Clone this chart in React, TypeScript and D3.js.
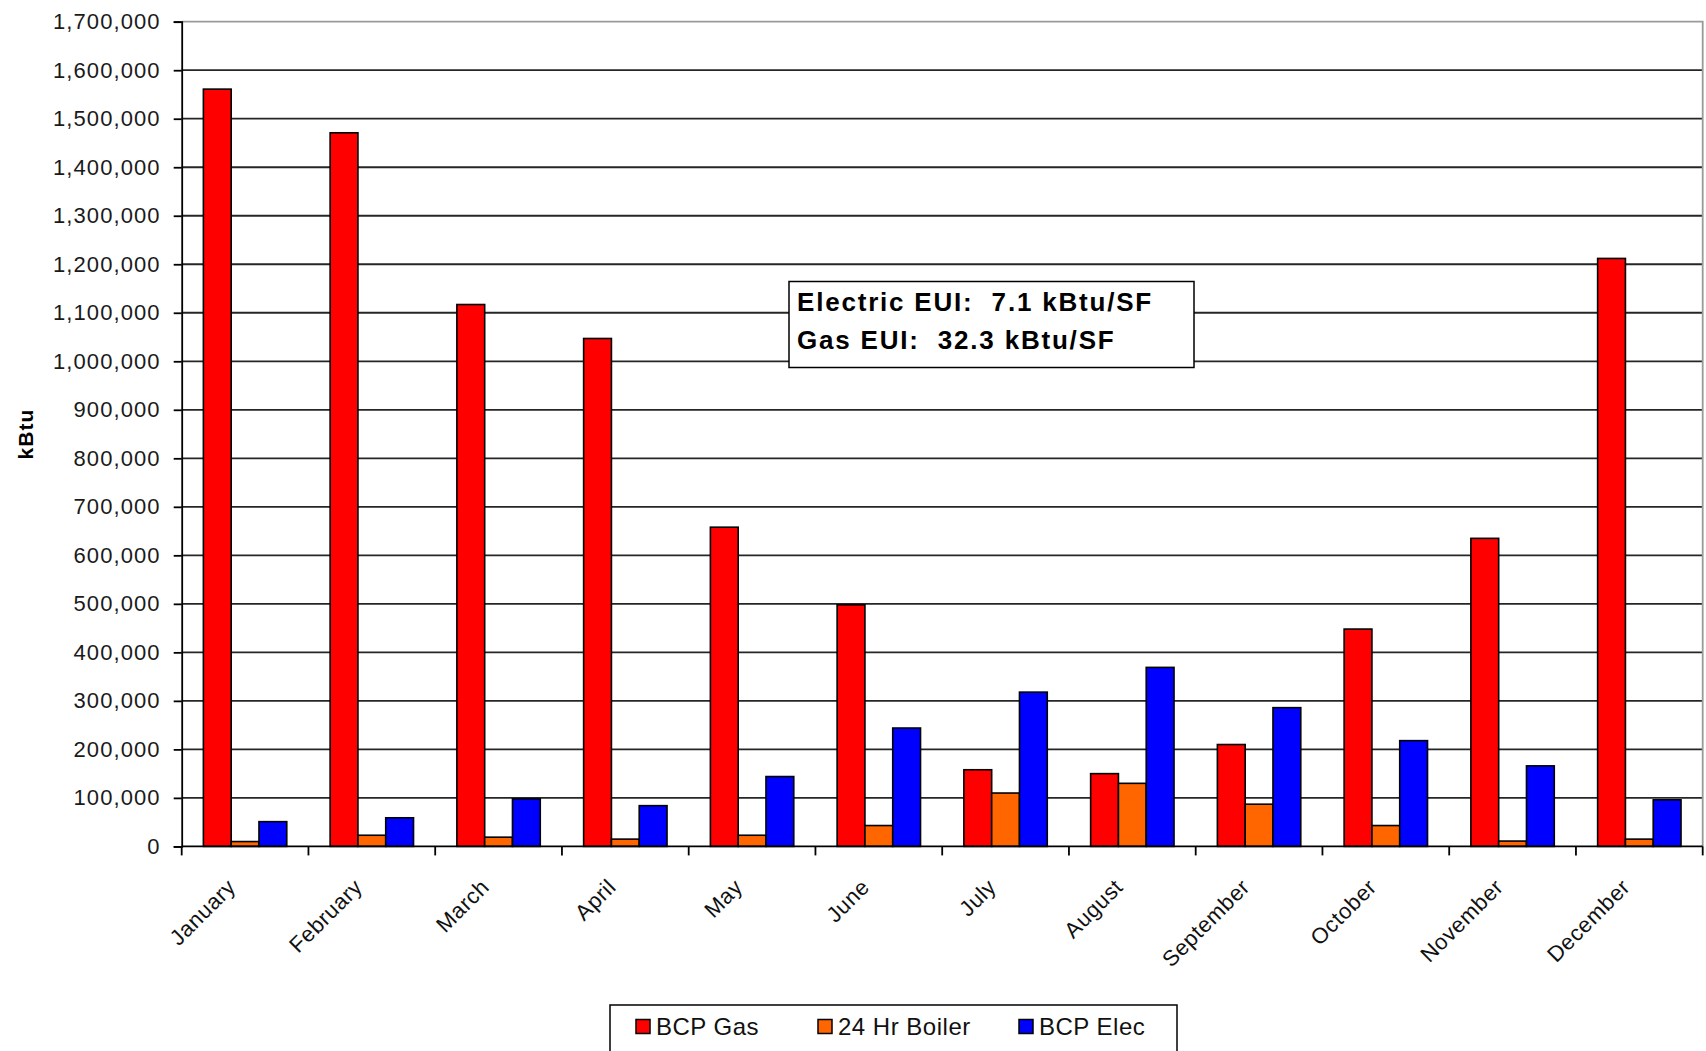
import React, { useEffect, useRef } from "react";
import * as d3 from "d3";

// Monthly energy use by source, kBtu
const months = [
  "January", "February", "March", "April", "May", "June",
  "July", "August", "September", "October", "November", "December",
];
const seriesNames = ["BCP Gas", "24 Hr Boiler", "BCP Elec"];
const bcpGas = [1561000, 1471000, 1117000, 1047000, 658000, 498000, 158000, 150000, 210000, 448000, 635000, 1212000];
const boiler24 = [10000, 23000, 19000, 15000, 23000, 43000, 110000, 130000, 87000, 43000, 11000, 15000];
const bcpElec = [51000, 59000, 98000, 84000, 144000, 244000, 318000, 369000, 286000, 218000, 166000, 96000];
const seriesColors = ["#FF0000", "#FF6600", "#0000FF"];
const yTickValues = d3.range(0, 1700001, 100000);
const notes = ["Electric EUI:  7.1 kBtu/SF", "Gas EUI:  32.3 kBtu/SF"];
const yTitle = "kBtu";

const W = 1706;
const H = 1051;
const FONT = "'Liberation Sans', Arial, sans-serif";

export default function App() {
  const ref = useRef<SVGSVGElement | null>(null);

  useEffect(() => {
    const svg = d3.select(ref.current);
    svg.selectAll("*").remove();

    const left = 181.7, right = 1702.7, top = 21.7, bottom = 846.4;
    const values = [bcpGas, boiler24, bcpElec];

    const y = d3.scaleLinear().domain([0, 1700000]).range([bottom, top]);
    const x0 = d3.scaleBand<string>().domain(months).range([left, right]).padding(0);
    const x1 = d3.scaleBand<string>().domain(seriesNames).range([0, x0.bandwidth()])
      .paddingInner(0).paddingOuter(0.78);

    svg.append("rect").attr("width", W).attr("height", H).attr("fill", "#fff");

    // gridlines
    svg.append("g").selectAll("line")
      .data(yTickValues.filter((v) => v > 0 && v < 1700000))
      .join("line")
      .attr("x1", left).attr("x2", right)
      .attr("y1", (d) => y(d)).attr("y2", (d) => y(d))
      .attr("stroke", "#262626").attr("stroke-width", 1.8);

    // plot frame (top and right)
    svg.append("path")
      .attr("d", `M${left},${y(1700000)}H${right}V${bottom}`)
      .attr("fill", "none").attr("stroke", "#9a9a9a").attr("stroke-width", 1.8);

    // bars
    const groups = svg.append("g").selectAll("g")
      .data(months).join("g")
      .attr("transform", (m) => `translate(${x0(m)},0)`);
    groups.selectAll("rect")
      .data((m) => seriesNames.map((s, k) => ({ s, k, v: values[k][months.indexOf(m)] })))
      .join("rect")
      .attr("x", (d) => x1(d.s)!)
      .attr("width", x1.bandwidth())
      .attr("y", (d) => y(d.v))
      .attr("height", (d) => y(0) - y(d.v))
      .attr("fill", (d) => seriesColors[d.k])
      .attr("stroke", "#000").attr("stroke-width", 1.6);

    // y axis
    const yAxis = svg.append("g")
      .attr("transform", `translate(${left},0)`)
      .call(d3.axisLeft(y).tickValues(yTickValues).tickSize(8).tickPadding(13)
        .tickFormat((d) => d3.format(",")(d as number)));
    yAxis.select(".domain").attr("stroke", "#000").attr("stroke-width", 1.8);
    yAxis.selectAll(".tick line").attr("stroke", "#000").attr("stroke-width", 1.8);
    yAxis.selectAll(".tick text")
      .attr("font-family", FONT).attr("font-size", 22).attr("fill", "#1a1a1a")
      .style("letter-spacing", "1.1px");

    // x axis baseline and boundary ticks
    svg.append("line")
      .attr("x1", left).attr("x2", right).attr("y1", bottom).attr("y2", bottom)
      .attr("stroke", "#000").attr("stroke-width", 1.8);
    const bounds = [...months.map((m) => x0(m)!), right];
    svg.append("g").selectAll("line").data(bounds).join("line")
      .attr("x1", (d) => d).attr("x2", (d) => d)
      .attr("y1", bottom).attr("y2", bottom + 9)
      .attr("stroke", "#000").attr("stroke-width", 1.8);

    // month labels
    svg.append("g").selectAll("text").data(months).join("text")
      .attr("transform", (m) => `translate(${x0(m)! + x0.bandwidth() / 2 - 8},${bottom + 42}) rotate(-45)`)
      .attr("text-anchor", "end")
      .attr("font-family", FONT).attr("font-size", 22).attr("fill", "#111")
      .style("letter-spacing", "0.6px")
      .text((m) => m);

    // y title
    svg.append("text")
      .attr("transform", `translate(33,${(top + bottom) / 2}) rotate(-90)`)
      .attr("text-anchor", "middle")
      .attr("font-family", FONT).attr("font-size", 21).attr("font-weight", "bold")
      .style("letter-spacing", "1px")
      .text(yTitle);

    // annotation box
    const note = svg.append("g");
    note.append("rect")
      .attr("x", 789).attr("y", 281.5).attr("width", 405).attr("height", 86)
      .attr("fill", "#fff").attr("stroke", "#000").attr("stroke-width", 1.5);
    note.selectAll("text").data(notes).join("text")
      .attr("x", 797).attr("y", (d, i) => 311 + i * 38)
      .attr("font-family", FONT).attr("font-size", 26).attr("font-weight", "bold")
      .style("letter-spacing", "1.8px").style("white-space", "pre")
      .text((d) => d);

    // legend
    const lg = svg.append("g");
    lg.append("rect")
      .attr("x", 610).attr("y", 1005).attr("width", 567).attr("height", 60)
      .attr("fill", "#fff").attr("stroke", "#000").attr("stroke-width", 1.5);
    const itemX = [636, 818, 1019];
    seriesNames.forEach((s, i) => {
      lg.append("rect")
        .attr("x", itemX[i]).attr("y", 1019.5).attr("width", 14).attr("height", 14)
        .attr("fill", seriesColors[i]).attr("stroke", "#000").attr("stroke-width", 1.5);
      lg.append("text")
        .attr("x", itemX[i] + 20).attr("y", 1035)
        .attr("font-family", FONT).attr("font-size", 24).attr("fill", "#111")
        .style("letter-spacing", "0.5px")
        .text(s);
    });
  }, []);

  return (
    <svg
      ref={ref}
      width={W}
      height={H}
      style={{ position: "absolute", left: 0, top: 0, display: "block" }}
    />
  );
}
